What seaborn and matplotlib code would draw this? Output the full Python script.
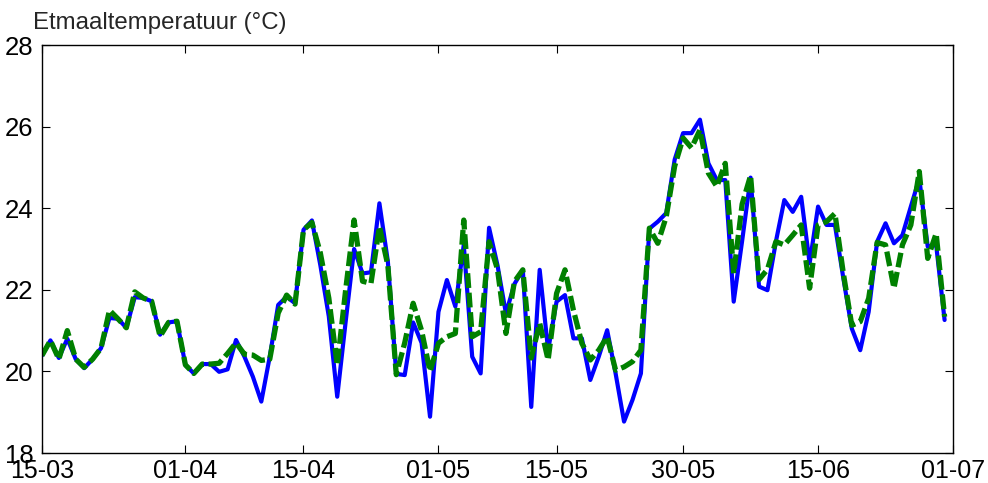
import numpy as np
import pandas as pd
import matplotlib
matplotlib.use("Agg")
import matplotlib.pyplot as plt
import matplotlib.dates as mdates
import seaborn as sns

# ----------------------------------------------------------
# DATA (daily mean temperature)
# ----------------------------------------------------------

start_date = "2015-03-15"

measured = [
    20.39, 20.76, 20.33, 20.80, 20.30, 20.08, 20.30, 20.57, 21.31, 21.29,
    21.07, 21.82, 21.80, 21.72, 20.90, 21.20, 21.23, 20.16, 19.95, 20.18,
    20.18, 19.99, 20.05, 20.77, 20.36, 19.87, 19.26, 20.36, 21.63, 21.83,
    21.67, 23.47, 23.70, 22.60, 21.35, 19.38, 21.22, 23.00, 22.40, 22.43,
    24.12, 22.70, 19.94, 19.91, 21.20, 20.70, 18.89, 21.46, 22.24, 21.59,
    23.10, 20.36, 19.95, 23.52, 22.60, 21.42, 22.14, 22.49, 19.13, 22.49,
    20.52, 21.71, 21.87, 20.81, 20.81, 19.79, 20.36, 21.01, 19.95, 18.77,
    19.30, 19.95, 23.50, 23.67, 23.88, 25.19, 25.84, 25.84, 26.17, 25.10,
    24.69, 24.69, 21.71, 23.20, 24.75, 22.08, 21.99, 23.18, 24.20, 23.91,
    24.28, 22.65, 24.04, 23.59, 23.59, 22.28, 21.05, 20.52, 21.46, 23.18,
    23.63, 23.14, 23.34, 24.04, 24.73, 23.06, 23.10, 21.26,
]

model = [
    20.39, 20.76, 20.30, 21.00, 20.30, 20.10, 20.30, 20.57, 21.50, 21.29,
    21.07, 21.95, 21.80, 21.72, 20.86, 21.20, 21.23, 20.16, 19.95, 20.18,
    20.18, 20.20, 20.44, 20.70, 20.42, 20.40, 20.27, 20.30, 21.43, 21.87,
    21.65, 23.47, 23.65, 22.90, 21.80, 20.15, 22.00, 23.71, 22.21, 22.16,
    23.55, 22.60, 19.92, 20.70, 21.67, 21.00, 20.00, 20.69, 20.85, 20.93,
    23.71, 20.85, 20.97, 23.18, 22.50, 20.93, 22.20, 22.49, 20.33, 21.18,
    20.28, 21.91, 22.49, 21.50, 20.69, 20.28, 20.52, 20.85, 20.03, 20.11,
    20.24, 20.52, 23.51, 23.14, 23.79, 25.03, 25.72, 25.48, 25.92, 24.86,
    24.53, 25.10, 22.40, 24.10, 24.80, 22.25, 22.50, 23.18, 23.10, 23.34,
    23.59, 22.04, 23.59, 23.67, 23.87, 22.40, 21.13, 21.22, 21.79, 23.16,
    23.10, 22.04, 23.10, 23.59, 24.90, 22.77, 23.38, 21.34,
]

tick_dates = ["2015-03-15", "2015-04-01", "2015-04-15", "2015-05-01",
              "2015-05-15", "2015-05-30", "2015-06-15", "2015-07-01"]
y_ticks = [18, 20, 22, 24, 26, 28]

df = pd.DataFrame({
    "datum": pd.date_range(start_date, periods=len(measured), freq="D"),
    "gemeten": measured,
    "model": model,
})

# ----------------------------------------------------------
# PLOT
# ----------------------------------------------------------

sns.set_style("ticks")
plt.rcParams["font.family"] = ["Liberation Sans", "DejaVu Sans"]

fig = plt.figure(figsize=(9.88, 4.83), dpi=100)
ax = fig.add_axes([0.0425, 0.0621, 0.9221, 0.8447])

sns.lineplot(data=df, x="datum", y="gemeten", ax=ax,
             color="#0000ff", linewidth=3.0)
sns.lineplot(data=df, x="datum", y="model", ax=ax,
             color="#008000", linewidth=3.8)
ax.lines[-1].set_dashes([2.8, 0.9])

ax.set_xlim(pd.Timestamp(tick_dates[0]), pd.Timestamp(tick_dates[-1]))
ax.set_ylim(18, 28)
ax.set_xticks([pd.Timestamp(d) for d in tick_dates])
ax.xaxis.set_major_formatter(mdates.DateFormatter("%d-%m"))
ax.set_yticks(y_ticks)

ax.tick_params(direction="in", length=6, width=0.8, labelsize=18.5,
               top=True, right=True, colors="black")
ax.tick_params(axis="x", pad=4, labelsize=18)
ax.tick_params(axis="y", pad=6)
for s in ax.spines.values():
    s.set_linewidth(1.0)
    s.set_color("black")

ax.set_xlabel("")
ax.set_ylabel("")

fig.text(33 / 988, 1 - 29 / 483, "Etmaaltemperatuur (°C)",
         fontsize=17.3, ha="left", va="baseline")

fig.savefig("out.png", dpi=100)
plt.close(fig)
